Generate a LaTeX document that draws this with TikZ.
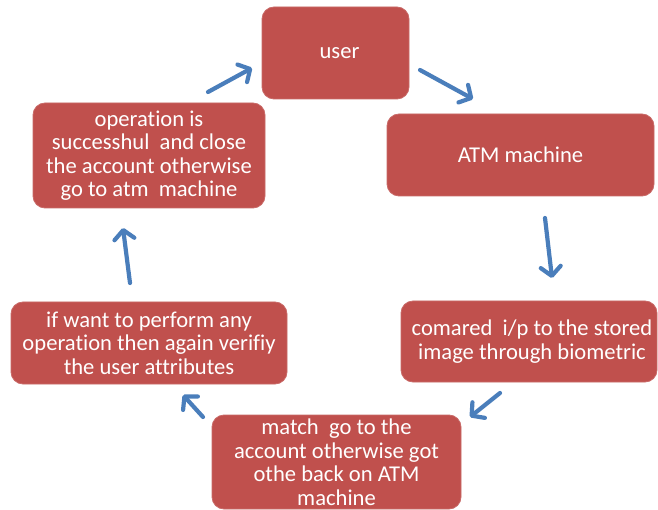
\documentclass[tikz,border=0pt]{standalone}
\usepackage{fontspec}
\setmainfont[Ligatures=NoCommon]{Carlito}
\usetikzlibrary{arrows.meta}
\definecolor{boxred}{HTML}{C0504D}
\definecolor{arrowblue}{HTML}{4A7EBB}
\begin{document}
\begin{tikzpicture}[x=1pt,y=-1pt,
  stepbox/.style={rectangle, rounded corners=12pt, fill=boxred, draw=boxred!85!white, line width=0.8pt,
    text=white, align=center, inner sep=0pt,
    font=\fontsize{22.6}{23.5}\selectfont},
  flow/.style={draw=arrowblue, line width=4.2pt, line cap=round,
    -{Straight Barb[length=9pt,width=20pt,line width=4.2pt,round]}}]
\useasboundingbox (0,0) rectangle (658,510);
\fill[white] (0,0) rectangle (658,510);
% boxes
\node[stepbox, minimum width=147pt, minimum height=92pt] (user) at (335.5,53) {\hspace*{8pt}user};
\node[stepbox, minimum width=267pt, minimum height=82pt] (atm) at (520.5,155) {ATM machine};
\node[stepbox, minimum width=256pt, minimum height=81pt] (cmp) at (529,341.5) {\hspace*{6pt}comared\ \ i/p to the stored\\\hspace*{6pt}image through biometric};
\node[stepbox, minimum width=249pt, minimum height=94pt] (match) at (336.5,462) {match\ \ go to the\\account otherwise got\\othe back on ATM\\machine};
\node[stepbox, minimum width=276pt, minimum height=82pt] (again) at (149,343) {if want to perform any\\operation then again verifiy\\the user attributes};
\node[stepbox, minimum width=232pt, minimum height=105pt] (done) at (149,155.5) {operation is\\successhul\ \ and close\\the account otherwise\\go to atm\ \ machine};
% arrow end points
\coordinate (a1s) at (420,70);  \coordinate (a1e) at (473,99);
\coordinate (a2s) at (545,218); \coordinate (a2e) at (552,278);
\coordinate (a3s) at (500,393); \coordinate (a3e) at (470,417);
\coordinate (a4s) at (203,417); \coordinate (a4e) at (183,395);
\coordinate (a5s) at (130,283); \coordinate (a5e) at (123,228);
\coordinate (a6s) at (208,92);  \coordinate (a6e) at (252,68);
\draw[flow] (a1s) -- (a1e);
\draw[flow] (a2s) -- (a2e);
\draw[flow] (a3s) -- (a3e);
\draw[flow] (a4s) -- (a4e);
\draw[flow] (a5s) -- (a5e);
\draw[flow] (a6s) -- (a6e);
\end{tikzpicture}
\end{document}
